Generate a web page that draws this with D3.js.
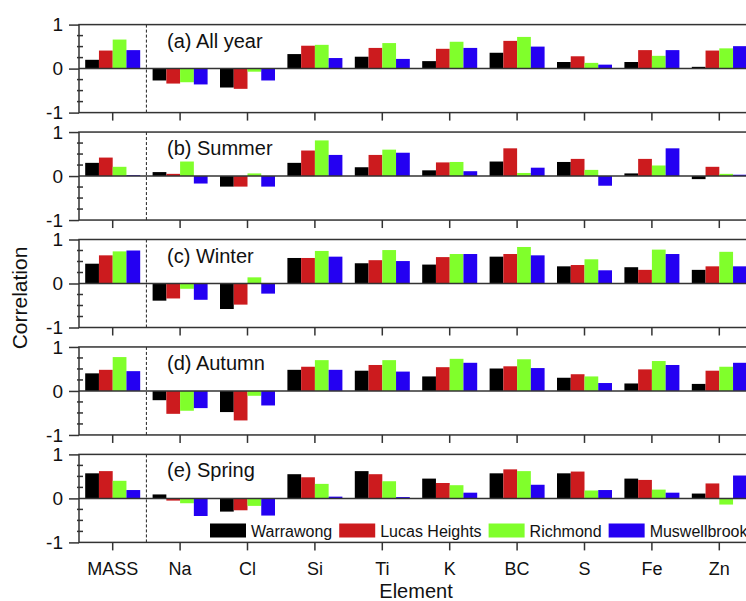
<!DOCTYPE html>
<html>
<head>
<meta charset="utf-8">
<script src="https://cdn.jsdelivr.net/npm/d3@7"></script>
<style>
  html, body { margin: 0; padding: 0; background: #fff; }
  svg { display: block; font-family: "Liberation Sans", Arial, sans-serif; }
</style>
</head>
<body>
<svg id="chart" width="746" height="601"></svg>
<script>
// Categories (elements) and monitoring stations
const elements = ["MASS", "Na", "Cl", "Si", "Ti", "K", "BC", "S", "Fe", "Zn"];
const stations = ["Warrawong", "Lucas Heights", "Richmond", "Muswellbrook"];
const stationColors = ["#000000", "#cc1b1e", "#80ff2b", "#2400f2"];
const yTicks = [-1, 0, 1];
const panelLabels = ["(a) All year", "(b) Summer", "(c) Winter", "(d) Autumn", "(e) Spring"];

// Correlation values, one row per station (Warrawong, Lucas Heights, Richmond, Muswellbrook)
const allYear = [
  [0.20, -0.27, -0.43, 0.33, 0.27, 0.17, 0.36, 0.15, 0.15, 0.04],
  [0.41, -0.34, -0.46, 0.52, 0.47, 0.45, 0.63, 0.28, 0.42, 0.41],
  [0.66, -0.31, -0.07, 0.54, 0.58, 0.61, 0.72, 0.13, 0.29, 0.46],
  [0.42, -0.36, -0.27, 0.24, 0.22, 0.47, 0.50, 0.09, 0.42, 0.51]
];
const summer = [
  [0.30, 0.09, -0.24, 0.30, 0.20, 0.13, 0.33, 0.32, 0.06, -0.07],
  [0.42, 0.05, -0.24, 0.58, 0.48, 0.31, 0.63, 0.39, 0.39, 0.21],
  [0.21, 0.33, 0.06, 0.81, 0.60, 0.32, 0.07, 0.14, 0.24, 0.05],
  [0.02, -0.17, -0.24, 0.48, 0.53, 0.11, 0.19, -0.22, 0.63, 0.03]
];
const winter = [
  [0.45, -0.39, -0.58, 0.58, 0.46, 0.43, 0.61, 0.39, 0.37, 0.31],
  [0.64, -0.34, -0.48, 0.58, 0.53, 0.60, 0.67, 0.42, 0.31, 0.39],
  [0.73, -0.12, 0.14, 0.74, 0.76, 0.67, 0.83, 0.55, 0.77, 0.72],
  [0.75, -0.37, -0.23, 0.61, 0.51, 0.67, 0.64, 0.30, 0.67, 0.39]
];
const autumn = [
  [0.40, -0.21, -0.48, 0.48, 0.46, 0.33, 0.51, 0.30, 0.17, 0.16],
  [0.48, -0.52, -0.67, 0.55, 0.59, 0.54, 0.56, 0.38, 0.49, 0.46],
  [0.77, -0.45, -0.11, 0.70, 0.70, 0.73, 0.72, 0.33, 0.68, 0.55],
  [0.45, -0.39, -0.33, 0.48, 0.44, 0.64, 0.52, 0.18, 0.59, 0.64]
];
const spring = [
  [0.57, 0.09, -0.30, 0.55, 0.62, 0.45, 0.57, 0.57, 0.45, 0.11],
  [0.62, -0.05, -0.27, 0.48, 0.55, 0.35, 0.66, 0.61, 0.42, 0.34],
  [0.40, -0.11, -0.17, 0.33, 0.39, 0.30, 0.62, 0.18, 0.20, -0.14],
  [0.19, -0.40, -0.39, 0.04, 0.03, 0.13, 0.31, 0.19, 0.13, 0.52]
];
const panels = [allYear, summer, winter, autumn, spring];

// Layout
const plotLeft = 79, plotRight = 753;
const panelTop0 = 24.6, panelStep = 107.45, panelH = 88;
const axisColor = "#333";
const fontFamily = "'Liberation Sans', Arial, sans-serif";

const svg = d3.select("#chart");

const x = d3.scaleBand().domain(elements).range([plotLeft, plotRight]).paddingInner(0.184).paddingOuter(0.092);
const xs = d3.scaleBand().domain(stations).range([0, x.bandwidth()]).padding(0);
const color = d3.scaleOrdinal().domain(stations).range(stationColors);

panels.forEach((rows, pi) => {
  const top = panelTop0 + pi * panelStep;
  const y = d3.scaleLinear().domain([-1, 1]).range([top + panelH, top]);
  const g = svg.append("g");

  // bars
  stations.forEach((st, si) => {
    g.selectAll(null)
      .data(rows[si].map((v, ei) => ({ el: elements[ei], v })))
      .join("rect")
      .attr("x", d => x(d.el) + xs(st))
      .attr("width", xs.bandwidth())
      .attr("y", d => y(Math.max(0, d.v)))
      .attr("height", d => Math.abs(y(d.v) - y(0)))
      .attr("fill", color(st));
  });

  // zero line
  g.append("line")
    .attr("x1", plotLeft).attr("x2", plotRight)
    .attr("y1", y(0)).attr("y2", y(0))
    .attr("stroke", axisColor).attr("stroke-width", 1.5);

  // dashed separator between MASS and the elements
  const sepX = (x("MASS") + x.bandwidth() / 2 + x("Na") + x.bandwidth() / 2) / 2;
  g.append("line")
    .attr("x1", sepX).attr("x2", sepX)
    .attr("y1", top).attr("y2", top + panelH)
    .attr("stroke", "#222").attr("stroke-width", 1)
    .attr("stroke-dasharray", "3,2");

  // frame
  g.append("rect")
    .attr("x", plotLeft).attr("y", top)
    .attr("width", plotRight - plotLeft).attr("height", panelH)
    .attr("fill", "none").attr("stroke", axisColor).attr("stroke-width", 1.5);

  // y axis: major ticks outward with labels, minor ticks inward
  const yAxis = d3.axisLeft(y).tickValues(yTicks).tickSize(10).tickPadding(6)
    .tickFormat(d3.format("d"));
  const ya = g.append("g").attr("transform", `translate(${plotLeft},0)`).call(yAxis);
  ya.select(".domain").remove();
  ya.selectAll(".tick line").attr("stroke", axisColor).attr("stroke-width", 1.5);
  ya.selectAll(".tick text")
    .attr("font-family", fontFamily).attr("font-size", 19).attr("fill", "#111")
    .text(d => d < 0 ? "-" + Math.abs(d) : d);

  const minor = d3.range(-0.75, 1, 0.25).filter(v => Math.abs(v) > 1e-9);
  g.selectAll(null).data(minor).join("line")
    .attr("x1", plotLeft - 2).attr("x2", plotLeft + 4)
    .attr("y1", d => y(d)).attr("y2", d => y(d))
    .attr("stroke", axisColor).attr("stroke-width", 1.5);

  // x axis ticks below each panel
  const xAxis = d3.axisBottom(x).tickSize(8).tickSizeOuter(0).tickPadding(8);
  const xa = g.append("g").attr("transform", `translate(0,${top + panelH})`).call(xAxis);
  xa.select(".domain").remove();
  xa.selectAll(".tick line").attr("stroke", axisColor).attr("stroke-width", 1.5);
  if (pi < panels.length - 1) {
    xa.selectAll(".tick text").remove();
  } else {
    xa.selectAll(".tick text")
      .attr("font-family", fontFamily).attr("font-size", 18).attr("fill", "#111")
      .attr("dy", "0.9em");
  }

  // panel label
  g.append("text")
    .attr("x", 167).attr("y", top + 23)
    .attr("font-family", fontFamily).attr("font-size", 20).attr("fill", "#111")
    .text(panelLabels[pi]);
});

// legend inside the last panel
const legend = svg.append("g").attr("transform", "translate(210,523.5)");
let lx = 0;
stations.forEach(st => {
  const item = legend.append("g").attr("transform", `translate(${lx},0)`);
  item.append("rect").attr("width", 36).attr("height", 14).attr("fill", color(st));
  const t = item.append("text")
    .attr("x", 41).attr("y", 13)
    .attr("font-family", fontFamily).attr("font-size", 16).attr("fill", "#111")
    .text(st);
  lx += 41 + t.node().getComputedTextLength() + 7;
});

// axis titles
svg.append("text")
  .attr("x", 416).attr("y", 598)
  .attr("text-anchor", "middle")
  .attr("font-family", fontFamily).attr("font-size", 20).attr("fill", "#111")
  .text("Element");

svg.append("text")
  .attr("transform", "translate(27,298) rotate(-90)")
  .attr("text-anchor", "middle")
  .attr("font-family", fontFamily).attr("font-size", 21).attr("fill", "#111")
  .text("Correlation");
</script>
</body>
</html>
